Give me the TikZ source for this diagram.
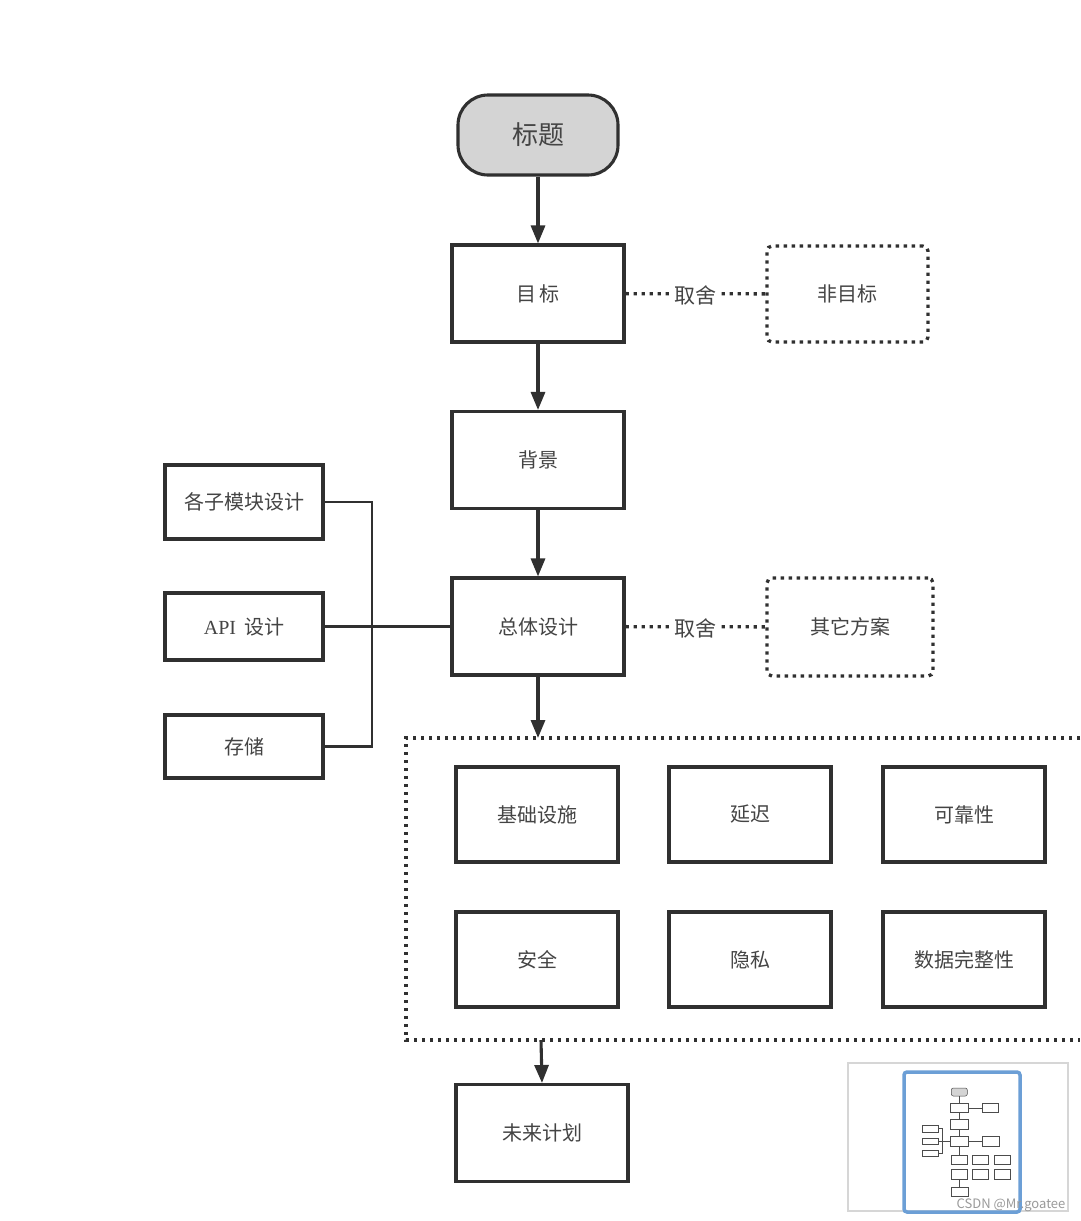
\documentclass[tikz,border=0pt]{standalone}
\usepackage{fontspec}
\setmainfont{Noto Sans CJK SC}
\newfontfamily\latinserif{Liberation Serif}
\usetikzlibrary{arrows.meta}
\definecolor{edge}{HTML}{303030}
\definecolor{txt}{HTML}{444444}
\definecolor{termfill}{HTML}{D4D4D4}
\definecolor{minblue}{HTML}{6C9FD6}
\definecolor{mingray}{HTML}{D6D6D6}
\definecolor{wmgray}{HTML}{9A9A9A}
\begin{document}
\begin{tikzpicture}[x=1pt,y=-1pt,
  box/.style={draw=edge, line width=3.1pt, fill=white, text=txt, font=\fontsize{20}{24}\selectfont, inner sep=0pt, anchor=center, minimum width=172pt, minimum height=97pt},
  term/.style={box, fill=termfill, rounded corners=30pt, font=\fontsize{26}{30}\selectfont},
  dotbox/.style={box, line width=3.3pt, dash pattern=on 3.3pt off 4.7pt, rounded corners=5pt},
  inner/.style={box, minimum width=162pt, minimum height=95pt},
  side/.style={box, minimum width=158pt},
  dotline/.style={draw=edge, line width=3.3pt, dash pattern=on 3.3pt off 4.7pt},
  flow/.style={draw=edge, line width=3.1pt, -{Triangle[length=18pt,width=14pt]}},
  link/.style={draw=edge, line width=2.8pt},
  lbl/.style={fill=white, text=txt, font=\fontsize{21}{24}\selectfont, inner sep=1pt, yshift=-2pt},
  mini/.style={draw=black!70, line width=0.5pt, fill=white},
]
\useasboundingbox (0,0) rectangle (1080,1221);
\fill[white] (0,0) rectangle (1080,1221);

% main flow
\node[term, minimum width=160pt, minimum height=80pt] (title) at (538,135) {标题};
\node[box] (goal) at (538,293.5) {目\hspace{3pt}标};
\node[dotbox, minimum width=161pt, minimum height=96pt] (nongoal) at (847.5,294) {非目标};
\node[box] (bg) at (538,460) {背景};
\node[box] (overall) at (538,626.5) {总体设计};
\node[dotbox, minimum width=166pt, minimum height=98pt] (alt) at (850,627) {其它方案};

% left modules
\node[side, minimum height=74pt] (sub) at (244,502) {各子模块设计};
\node[side, minimum height=67pt] (api) at (244,626.5) {{\latinserif API}\hspace{8pt}设计};
\node[side, minimum height=63pt] (store) at (244,746.5) {存储};

% container
\coordinate (cTop) at (538,738);
\coordinate (cBot) at (541,1040);
\coordinate (cTL) at (406,738);
\coordinate (cBL) at (406,1040);
\coordinate (cTR) at (1080,738);
\coordinate (cBR) at (1080,1040);
\draw[dotline] (cTR) -- (cTL) -- (cBL) -- (cBR);

\node[inner] (infra) at (537,814.5) {基础设施};
\node[inner] (latency) at (750,814.5) {延迟};
\node[inner] (rel) at (964,814.5) {可靠性};
\node[inner] (sec) at (537,959.5) {安全};
\node[inner] (priv) at (750,959.5) {隐私};
\node[inner] (integ) at (964,959.5) {数据完整性};

\node[box] (future) at (542,1133) {未来计划};

% connectors
\draw[flow] (title) -- (goal);
\draw[flow] (goal) -- (bg);
\draw[flow] (bg) -- (overall);
\draw[flow] (overall.south) -- (cTop);
\draw[flow] (cBot) -- (future.north);
\draw[dotline] (goal) -- node[lbl] (tr1) {取舍} (nongoal);
\draw[dotline] (overall) -- node[lbl] (tr2) {取舍} (alt);

\coordinate (busT) at (372,502);
\coordinate (busB) at (372,746.5);
\draw[link] (sub.east) -- (busT) -- (busB) -- (store.east);
\draw[link] (api.east) -- (overall.west);

% minimap
\draw[mingray, line width=1.5pt] (848,1063) rectangle (1068,1211);
\draw[minblue, line width=3.5pt, rounded corners=3pt] (904,1072) rectangle (1020,1212);
\begin{scope}[shift={(905.5,1078.5)}, scale=0.1]
  \draw[mini, fill=termfill, rounded corners=2pt] (458,95) rectangle (618,175);
  \draw[mini] (452,245) rectangle (624,342);
  \draw[mini] (767,246) rectangle (928,342);
  \draw[mini] (452,412) rectangle (624,508);
  \draw[mini] (452,578) rectangle (624,675);
  \draw[mini] (767,578) rectangle (933,676);
  \draw[mini] (165,465) rectangle (323,539);
  \draw[mini] (165,593) rectangle (323,660);
  \draw[mini] (165,715) rectangle (323,778);
  \draw[mini] (456,767) rectangle (618,862);
  \draw[mini] (669,767) rectangle (831,862);
  \draw[mini] (883,767) rectangle (1045,862);
  \draw[mini] (456,912) rectangle (618,1007);
  \draw[mini] (669,912) rectangle (831,1007);
  \draw[mini] (883,912) rectangle (1045,1007);
  \draw[mini] (456,1085) rectangle (628,1181);
  \draw[black!70, line width=0.5pt] (538,175) -- (538,245) (538,342) -- (538,412) (538,508) -- (538,578) (538,675) -- (538,767) (541,1007) -- (541,1085);
  \draw[black!70, line width=0.5pt] (624,294) -- (767,294) (624,627) -- (767,627);
  \draw[black!70, line width=0.5pt] (323,502) -- (372,502) -- (372,746) -- (323,746) (323,627) -- (452,627);
\end{scope}
\node[text=wmgray, font=\fontsize{13}{15}\selectfont, inner sep=0pt] (wm) at (1011,1205) {CSDN @Mr.goatee};
\end{tikzpicture}
\end{document}
